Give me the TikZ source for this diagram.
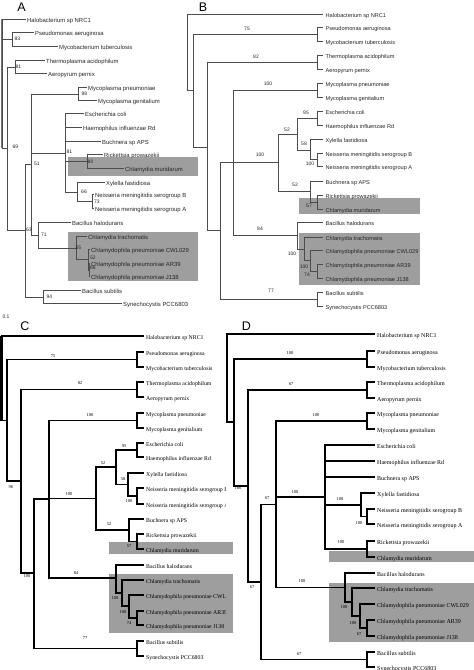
\documentclass[tikz,border=0pt]{standalone}
\usepackage{fontspec}
\setmainfont{Liberation Serif}
\newfontfamily\arialf{Liberation Sans}
\definecolor{boxgray}{gray}{0.62}
\tikzset{
  alin/.style={draw=black!70, line width=0.45pt},
  clin/.style={draw=black, line width=1.1pt},
  rootbarA/.style={draw=black!55, line width=2.6pt},
  rootbarC/.style={draw=black, line width=2.6pt},
  leafbase/.style={anchor=west, inner ysep=0pt, text height=0.6em, text depth=0pt},
  aleaf/.style={leafbase, inner xsep=1.5pt, text=black!85, font=\arialf\fontsize{5.9}{6}\selectfont},
  bleaf/.style={leafbase, inner xsep=2.5pt, text=black!85, font=\arialf\fontsize{5.6}{6}\selectfont},
  cleaf/.style={leafbase, inner xsep=2pt, text=black, font=\fontsize{5.8}{6}\selectfont},
  dleaf/.style={leafbase, inner xsep=2.5pt, text=black, font=\fontsize{6}{6}\selectfont},
  anum/.style={inner sep=0pt, text=black!85, font=\arialf\fontsize{5}{5}\selectfont},
  cnum/.style={inner sep=0pt, text=black, font=\fontsize{4.5}{5}\selectfont},
  panel/.style={inner sep=0pt, font=\arialf\fontsize{12.5}{13}\selectfont},
  gbox/.style={fill=boxgray}
}
\begin{document}
\begin{tikzpicture}[x=1pt,y=-1pt]
\useasboundingbox (0,0) rectangle (474,670);

% ---------- gray boxes ----------
\fill[gbox] (68,157) rectangle (198,176);
\fill[gbox] (68,232) rectangle (198,281);
\fill[gbox] (299,198) rectangle (420,214);
\fill[gbox] (299,233) rectangle (420,285);
\fill[gbox] (109,542) rectangle (233,554);
\fill[gbox] (109,574) rectangle (233,633);
\fill[gbox] (329,551) rectangle (474,562);
\fill[gbox] (329,583) rectangle (474,642);

% ---------- panel letters ----------
\node[panel] (pA) at (21.5,7.5) {A};
\node[panel] (pB) at (203,7) {B};
\node[panel] (pC) at (25,326) {C};
\node[panel] (pD) at (246.5,326) {D};

% =================== PANEL A ===================
\coordinate (aR) at (2,83);
\coordinate (a83) at (12,39);
\coordinate (a69) at (7,148);
\coordinate (a81t) at (15,67);
\coordinate (a63) at (25,230);
\coordinate (a51) at (31,164);
\coordinate (a98) at (78,94);
\coordinate (a81) at (65,153);
\coordinate (a80) at (87,161);
\coordinate (a66) at (77,192);
\coordinate (a73) at (92,201);
\coordinate (a71) at (38,235);
\coordinate (a55) at (76,248);
\coordinate (a52) at (88,259.5);
\coordinate (a66b) at (89,270);
\coordinate (a94) at (43,297);

\foreach \n/\x/\y/\t in {
 aHal/25.5/19/Halobacterium sp NRC1,
 aPse/33.5/32/Pseudomonas aeruginosa,
 aMyc/57.5/46/Mycobacterium tuberculosis,
 aThe/44.5/60/Thermoplasma acidophilum,
 aAer/46.5/73/Aeropyrum pernix,
 aMpn/86.5/87/Mycoplasma pneumoniae,
 aMge/96.5/100/Mycoplasma genitalium,
 aEco/83.5/113/Escherichia coli,
 aHae/81.5/127/Haemophilus influenzae Rd,
 aBuc/100.5/141/Buchnera sp APS,
 aRic/102.5/154/Rickettsia prowazekii,
 aCmu/123.5/168/Chlamydia muridarum,
 aXyl/104.5/182/Xylella fastidiosa,
 aNmB/93.5/194/Neisseria meningitidis serogroup B,
 aNmA/93.5/208/Neisseria meningitidis serogroup A,
 aBha/70.5/222/Bacillus halodurans,
 aCtr/86.5/236/Chlamydia trachomatis,
 aCWL/89.5/249/Chlamydophila pneumoniae CWL029,
 aAR/89.5/263/Chlamydophila pneumoniae AR39,
 aJ/89.5/276/Chlamydophila pneumoniae J138,
 aBsu/80.5/290/Bacillus subtilis,
 aSyn/121.5/303/Synechocystis PCC6803}
 \node[aleaf] (\n) at (\x,\y) {\t};

\draw[rootbarA] (aR |- aHal) -- (aR |- a69);
\foreach \p/\c in {aR/aHal, aR/a83, aR/a69, a83/aPse, a83/aMyc, a69/a81t, a69/a63,
 a81t/aThe, a81t/aAer, a63/a51, a63/a94, a51/a98, a51/a81, a51/a71, a98/aMpn, a98/aMge,
 a81/aEco, a81/aHae, a81/aBuc, a81/a80, a81/a66, a80/aRic, a80/aCmu, a66/aXyl, a66/a73,
 a73/aNmB, a73/aNmA, a71/aBha, a71/a55, a55/aCtr, a55/a52, a52/aCWL, a52/a66b,
 a66b/aAR, a66b/aJ, a94/aBsu, a94/aSyn}
 \draw[alin] (\p) |- (\c);

\foreach \n/\x/\y/\t in {
 la1/17.5/38.5/83, la2/18.5/67/81, la3/15.5/147/69, la4/84.5/94/98, la5/69.5/152/81,
 la6/90.5/162/80, la7/84/192/66, la8/97/202/73, la9/37/164/51, la10/29/230/63,
 la11/44/235/71, la12/78.5/248/55, la13/93/258/52, la14/93/268/66, la15/49.5/297/94,
 la16/6/317/0.1}
 \node[anum] (\n) at (\x,\y) {\t};

% =================== PANEL B ===================
\coordinate (bR) at (187,52);
\coordinate (b90) at (193,90);
\coordinate (b75) at (317,34);
\coordinate (b147) at (207,147);
\coordinate (b82) at (317,62);
\coordinate (b230) at (220,230);
\coordinate (b162) at (233,162.5);
\coordinate (bMyp) at (317,90);
\coordinate (b100) at (278,162.5);
\coordinate (b52) at (297,134);
\coordinate (b95) at (317,118);
\coordinate (b58) at (310,150);
\coordinate (bNm) at (317,159.5);
\coordinate (b52b) at (310,191.5);
\coordinate (b57) at (317,202);
\coordinate (b84) at (297,235.5);
\coordinate (bChl) at (304,249);
\coordinate (b100c) at (310,260.5);
\coordinate (b74) at (317,271);
\coordinate (b77) at (317,299);

\foreach \n/\y/\t in {
 bHal/14/Halobacterium sp NRC1,
 bPse/27/Pseudomonas aeruginosa,
 bMyc/41/Mycobacterium tuberculosis,
 bThe/55/Thermoplasma acidophilum,
 bAer/69/Aeropyrum pernix,
 bMpn/83/Mycoplasma pneumoniae,
 bMge/97/Mycoplasma genitalium,
 bEco/111/Escherichia coli,
 bHae/125/Haemophilus influenzae Rd,
 bXyl/139/Xylella fastidiosa,
 bNmB/153/Neisseria meningitidis serogroup B,
 bNmA/166/Neisseria meningitidis serogroup A,
 bBuc/181/Buchnera sp APS,
 bRic/195/Rickettsia prowazekii,
 bCmu/209/Chlamydia muridarum,
 bBha/222/Bacillus halodurans,
 bCtr/237/Chlamydia trachomatis,
 bCWL/250/Chlamydophila pneumoniae CWL029,
 bAR/264/Chlamydophila pneumoniae AR39,
 bJ/278/Chlamydophila pneumoniae J138,
 bBsu/292/Bacillus subtilis,
 bSyn/306/Synechocystis PCC6803}
 \node[bleaf] (\n) at (323,\y) {\t};

\foreach \p/\c in {bR/bHal, bR/b90, b90/b75, b90/b147, b75/bPse, b75/bMyc, b147/b82, b147/b230,
 b82/bThe, b82/bAer, b230/b162, b230/b77, b162/bMyp, b162/b100, b162/b84, bMyp/bMpn, bMyp/bMge,
 b100/b52, b100/b52b, b52/b95, b52/b58, b95/bEco, b95/bHae, b58/bXyl, b58/bNm, bNm/bNmB, bNm/bNmA,
 b52b/bBuc, b52b/b57, b57/bRic, b57/bCmu, b84/bBha, b84/bChl, bChl/bCtr, bChl/b100c,
 b100c/bCWL, b100c/b74, b74/bAR, b74/bJ, b77/bBsu, b77/bSyn}
 \draw[alin] (\p) |- (\c);

\foreach \n/\x/\y/\t in {
 lb1/247/29/75, lb2/256/57/82, lb3/268/84/100, lb4/260/155/100, lb5/287/130/52,
 lb6/306/113/95, lb7/304/144/58, lb8/310/164/100, lb9/295/185/52, lb10/309/206/57,
 lb11/260/229/84, lb12/292/254/100, lb13/304/267/100, lb14/307/275/74, lb15/271/291/77}
 \node[anum] (\n) at (\x,\y) {\t};

% =================== PANEL C ===================
\coordinate (cR) at (1.5,378);
\coordinate (c7) at (7,420.5);
\coordinate (c75) at (137,359.5);
\coordinate (c21) at (21,481);
\coordinate (c82) at (137,389.5);
\coordinate (c34) at (34,573);
\coordinate (c49) at (49,499);
\coordinate (cMyp) at (137,420.5);
\coordinate (c100) at (96,498.5);
\coordinate (c52) at (116,467);
\coordinate (c95) at (137,450);
\coordinate (c58) at (128,484.5);
\coordinate (cNm) at (137,496);
\coordinate (c52b) at (129,530);
\coordinate (c57) at (137,541.5);
\coordinate (c84) at (116,578);
\coordinate (cChl) at (122,593);
\coordinate (c100d) at (129,606);
\coordinate (c74) at (137,618);
\coordinate (c77) at (137,648.5);

\begin{scope}
\clip (0,318) rectangle (225.5,670);
\foreach \n/\y/\t in {
 cHal/336/Halobacterium sp NRC1,
 cPse/352/Pseudomonas aeruginosa,
 cMyc/367/Mycobacterium tuberculosis,
 cThe/382/Thermoplasma acidophilum,
 cAer/397/Aeropyrum pernix,
 cMpn/413/Mycoplasma pneumoniae,
 cMge/428/Mycoplasma genitalium,
 cEco/443/Escherichia coli,
 cHae/457/Haemophilus influenzae Rd,
 cXyl/473/Xylella fastidiosa,
 cNmB/488/Neisseria meningitidis serogroup B,
 cNmA/504/Neisseria meningitidis serogroup A,
 cBuc/519/Buchnera sp APS,
 cRic/534/Rickettsia prowazekii,
 cCmu/549/Chlamydia muridarum,
 cBha/565/Bacillus halodurans,
 cCtr/580/Chlamydia trachomatis,
 cCWL/595/Chlamydophila pneumoniae CWL029,
 cAR/611/Chlamydophila pneumoniae AR39,
 cJ/625/Chlamydophila pneumoniae J138,
 cBsu/641/Bacillus subtilis,
 cSyn/656/Synechocystis PCC6803}
 \node[cleaf] (\n) at (144,\y) {\t};
\end{scope}

\draw[rootbarC] (cR |- cHal) -- (cR |- c7);
\foreach \p/\c in {cR/cHal, cR/c7, c7/c75, c7/c21, c75/cPse, c75/cMyc, c21/c82, c21/c34,
 c82/cThe, c82/cAer, c34/c49, c34/c77, c49/cMyp, c49/c100, c49/c84, cMyp/cMpn, cMyp/cMge,
 c100/c52, c100/c52b, c52/c95, c52/c58, c95/cEco, c95/cHae, c58/cXyl, c58/cNm, cNm/cNmB, cNm/cNmA,
 c52b/cBuc, c52b/c57, c57/cRic, c57/cCmu, c84/cBha, c84/cChl, cChl/cCtr, cChl/c100d,
 c100d/cCWL, c100d/c74, c74/cAR, c74/cJ, c77/cBsu, c77/cSyn}
 \draw[clin] (\p) |- (\c);

\foreach \n/\x/\y/\t in {
 lc1/53/356/75, lc2/80/383/82, lc3/90/415/100, lc4/124/446/95, lc5/103/463/52,
 lc6/123/479/58, lc7/129/501/100, lc8/69/494/100, lc9/109/524/52, lc10/129/546/57,
 lc11/76/573/84, lc12/115/598/100, lc13/123/612/100, lc14/129/623/74, lc15/85/638/77,
 lc16/11/487/96, lc17/27/576/100}
 \node[cnum] (\n) at (\x,\y) {\t};

% =================== PANEL D ===================
\coordinate (dR) at (227,378);
\coordinate (d234) at (234,422);
\coordinate (d100a) at (367,359);
\coordinate (d248) at (248,486);
\coordinate (d67a) at (367,390);
\coordinate (d261) at (261,582);
\coordinate (d276) at (276,504.5);
\coordinate (dMyp) at (367,421);
\coordinate (d325) at (325,497);
\coordinate (d361) at (361,505);
\coordinate (dNm) at (367,516.5);
\coordinate (d367r) at (367,549);
\coordinate (d345) at (345,587.5);
\coordinate (d352) at (352,602);
\coordinate (d360) at (360,616);
\coordinate (d67d) at (367,628);
\coordinate (d67c) at (367,659.5);

\foreach \n/\y/\t in {
 dHal/334/Halobacterium sp NRC1,
 dPse/351/Pseudomonas aeruginosa,
 dMyc/367/Mycobacterium tuberculosis,
 dThe/382/Thermoplasma acidophilum,
 dAer/398/Aeropyrum pernix,
 dMpn/413/Mycoplasma pneumoniae,
 dMge/429/Mycoplasma genitalium,
 dEco/445/Escherichia coli,
 dHae/461/Haemophilus influenzae Rd,
 dBuc/477/Buchnera sp APS,
 dXyl/493/Xylella fastidiosa,
 dNmB/509/Neisseria meningitidis serogroup B,
 dNmA/524/Neisseria meningitidis serogroup A,
 dRic/541/Rickettsia prowazekii,
 dCmu/557/Chlamydia muridarum,
 dBha/573/Bacillus halodurans,
 dCtr/588/Chlamydia trachomatis,
 dCWL/604/Chlamydophila pneumoniae CWL029,
 dAR/620/Chlamydophila pneumoniae AR39,
 dJ/636/Chlamydophila pneumoniae J138,
 dBsu/652/Bacillus subtilis,
 dSyn/667/Synechocystis PCC6803}
 \node[dleaf] (\n) at (374.5,\y) {\t};

\foreach \p/\c in {dR/dHal, dR/d234, d234/d100a, d234/d248, d100a/dPse, d100a/dMyc,
 d248/d67a, d248/d261, d67a/dThe, d67a/dAer, d261/d276, d261/d67c,
 d276/dMyp, d276/d325, d276/d345, dMyp/dMpn, dMyp/dMge,
 d325/dEco, d325/dHae, d325/dBuc, d325/d361, d325/d367r, d361/dXyl, d361/dNm,
 dNm/dNmB, dNm/dNmA, d367r/dRic, d367r/dCmu, d345/dBha, d345/d352, d352/dCtr, d352/d360,
 d360/dCWL, d360/d67d, d67d/dAR, d67d/dJ, d67c/dBsu, d67c/dSyn}
 \draw[clin] (\p) |- (\c);

\foreach \n/\x/\y/\t in {
 ld1/290/353/100, ld2/291/384/67, ld3/316/415/100, ld4/238/488/100, ld5/267/498/67,
 ld6/295/492/100, ld7/340/499/100, ld8/359/523/100, ld9/341/542/100, ld10/252/587/67,
 ld11/302/581/100, ld12/344/607/100, ld13/353/623/100, ld14/359/634/67, ld15/299/654/67}
 \node[cnum] (\n) at (\x,\y) {\t};

\end{tikzpicture}
\end{document}
